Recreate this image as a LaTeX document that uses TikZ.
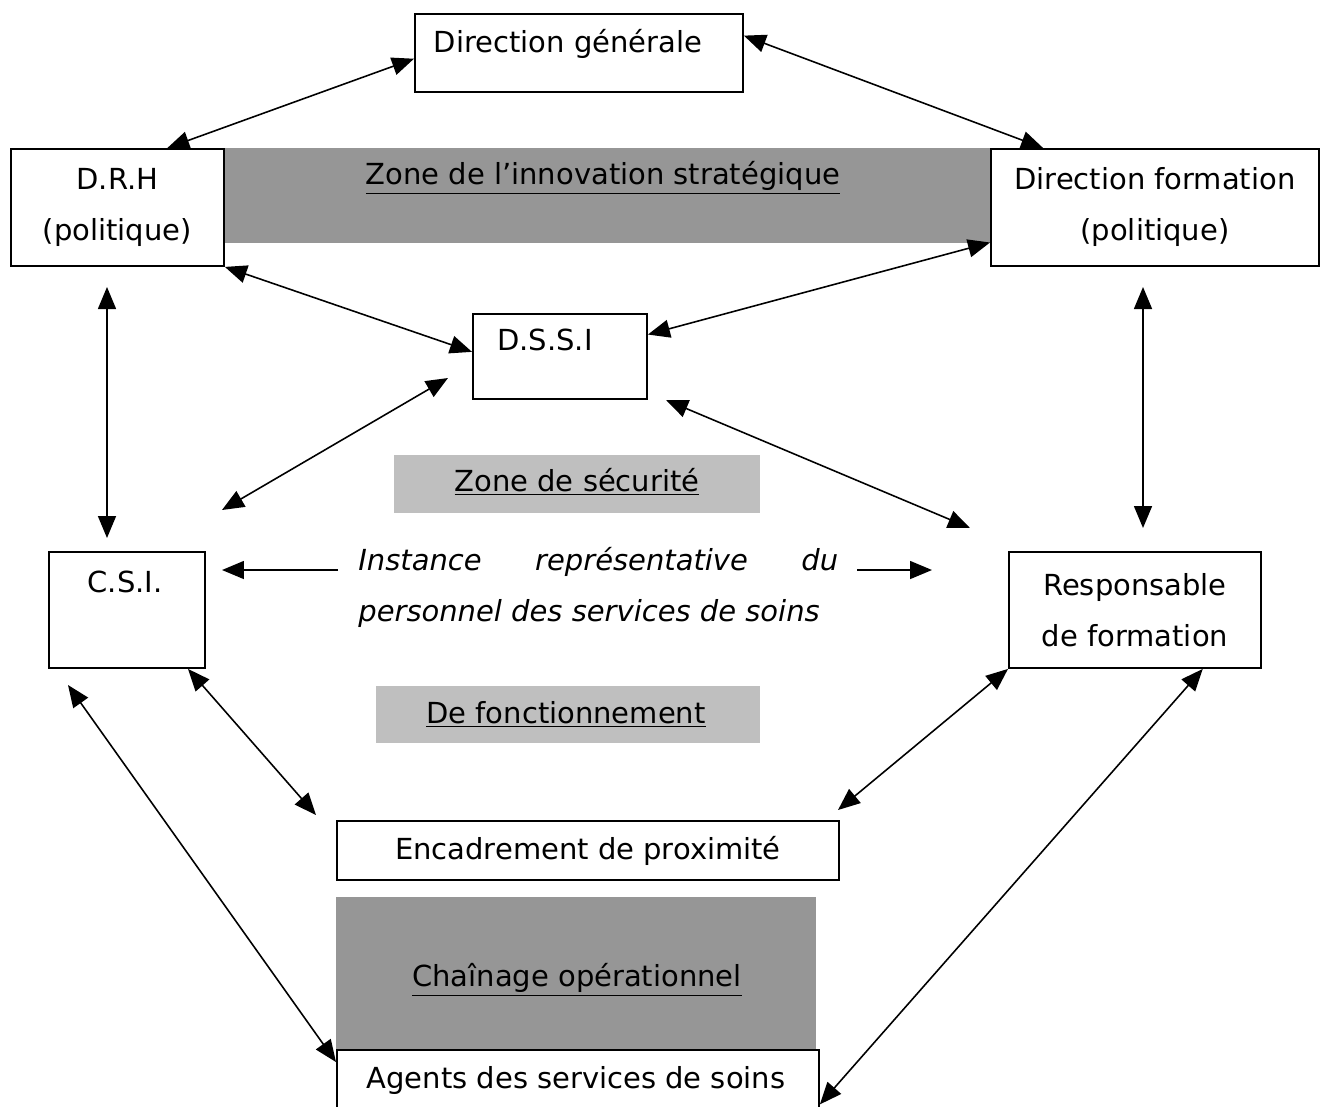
\documentclass[tikz,border=0pt]{standalone}
\usepackage{fontspec}
\setmainfont{DejaVu Sans}
\usetikzlibrary{arrows.meta,calc}

\definecolor{zonedark}{gray}{0.59}
\definecolor{zonelight}{gray}{0.75}

\tikzset{
  box/.style={draw, line width=1.1pt, fill=white, anchor=north west,
    inner sep=0pt, align=center},
  link/.style={{Triangle[length=0.44cm,width=0.36cm]}-{Triangle[length=0.44cm,width=0.36cm]},
    line width=0.9pt},
  oneway/.style={-{Triangle[length=0.44cm,width=0.36cm]}, line width=0.9pt}
}

\begin{document}
\begin{tikzpicture}[x=0.02cm, y=-0.02cm, font=\fontsize{16.5}{29}\selectfont]
  \useasboundingbox (0,0) rectangle (1324,1106);

  % zones
  \fill[zonedark] (223,148) rectangle (990,243);
  \fill[zonelight] (394,455) rectangle (760,513);
  \fill[zonelight] (376,686) rectangle (760,743);
  \fill[zonedark] (336,897) rectangle (816,1049);
  \node (zinno) at (603,178) {\underline{Zone de l’innovation stratégique}};
  \node (zsecu) at (577,482) {\underline{Zone de sécurité}};
  \node (zfonct) at (566,714) {\underline{De fonctionnement}};
  \node (zchain) at (577,980) {\underline{Chaînage opérationnel}};

  % boxes
  \node[box, minimum width=6.56cm, minimum height=1.56cm] (dg) at (414,13) {};
  \node (dgtext) at (568,44) {Direction générale};
  \node[box, minimum width=4.26cm, minimum height=2.34cm] (drh) at (10,148) {D.R.H\\(politique)};
  \node[box, minimum width=6.56cm, minimum height=2.34cm] (df) at (990,148) {Direction formation\\(politique)};
  \node[box, minimum width=3.48cm, minimum height=1.7cm] (dssi) at (472,313) {};
  \node (dssitext) at (545,340) {D.S.S.I};
  \node[box, minimum width=3.12cm, minimum height=2.32cm] (csi) at (48,551) {};
  \node (csitext) at (125,582) {C.S.I.};
  \node[box, minimum width=5.04cm, minimum height=2.32cm] (resp) at (1008,551) {Responsable\\de formation};
  \node[box, minimum width=10.04cm, minimum height=1.18cm] (encad) at (336,820) {Encadrement de proximité};
  \node[box, minimum width=9.64cm, minimum height=1.5cm] (agents) at (336,1049) {};
  \node (agentstext) at (576,1080) {Agents des services de soins};

  % instance
  \node[anchor=north west, inner sep=0pt, align=left, font=\fontsize{16.5}{29}\selectfont\itshape]
    (inst) at (358,547) {\makebox[9.6cm][s]{Instance représentative du}\\personnel des services de soins};

  % free ends
  \coordinate (dssisw) at (448,378);
  \coordinate (csine) at (222,510);
  \coordinate (dssise) at (666,400);
  \coordinate (respnw) at (970,528);
  \coordinate (drhs) at (107,287);
  \coordinate (csin) at (107,538);
  \coordinate (dfs) at (1143,287);
  \coordinate (respn) at (1143,528);
  \coordinate (encadnw) at (316,815);
  \coordinate (csisw) at (68,685);
  \coordinate (encadne) at (838,810);
  \coordinate (instw) at (338,570);
  \coordinate (csie) at (222,570);
  \coordinate (inste) at (857,570);
  \coordinate (respw) at (932,570);

  % links
  \draw[link] (dg.182) -- (drh.50);
  \draw[link] (dg.6) -- (df.152);
  \draw[link] (drh.south east) -- (dssi.177);
  \draw[link] (df.192) -- (dssi.14);
  \draw[link] (dssisw) -- (csine);
  \draw[link] (dssise) -- (respnw);
  \draw[link] (drhs) -- (csin);
  \draw[link] (dfs) -- (respn);
  \draw[link] (csi.316) -- (encadnw);
  \draw[link] (csisw) -- (agents.174);
  \draw[link] (resp.south west) -- (encadne);
  \draw[link] (resp.319) -- (agents.356);
  \draw[oneway] (instw) -- (csie);
  \draw[oneway] (inste) -- (respw);
\end{tikzpicture}
\end{document}
